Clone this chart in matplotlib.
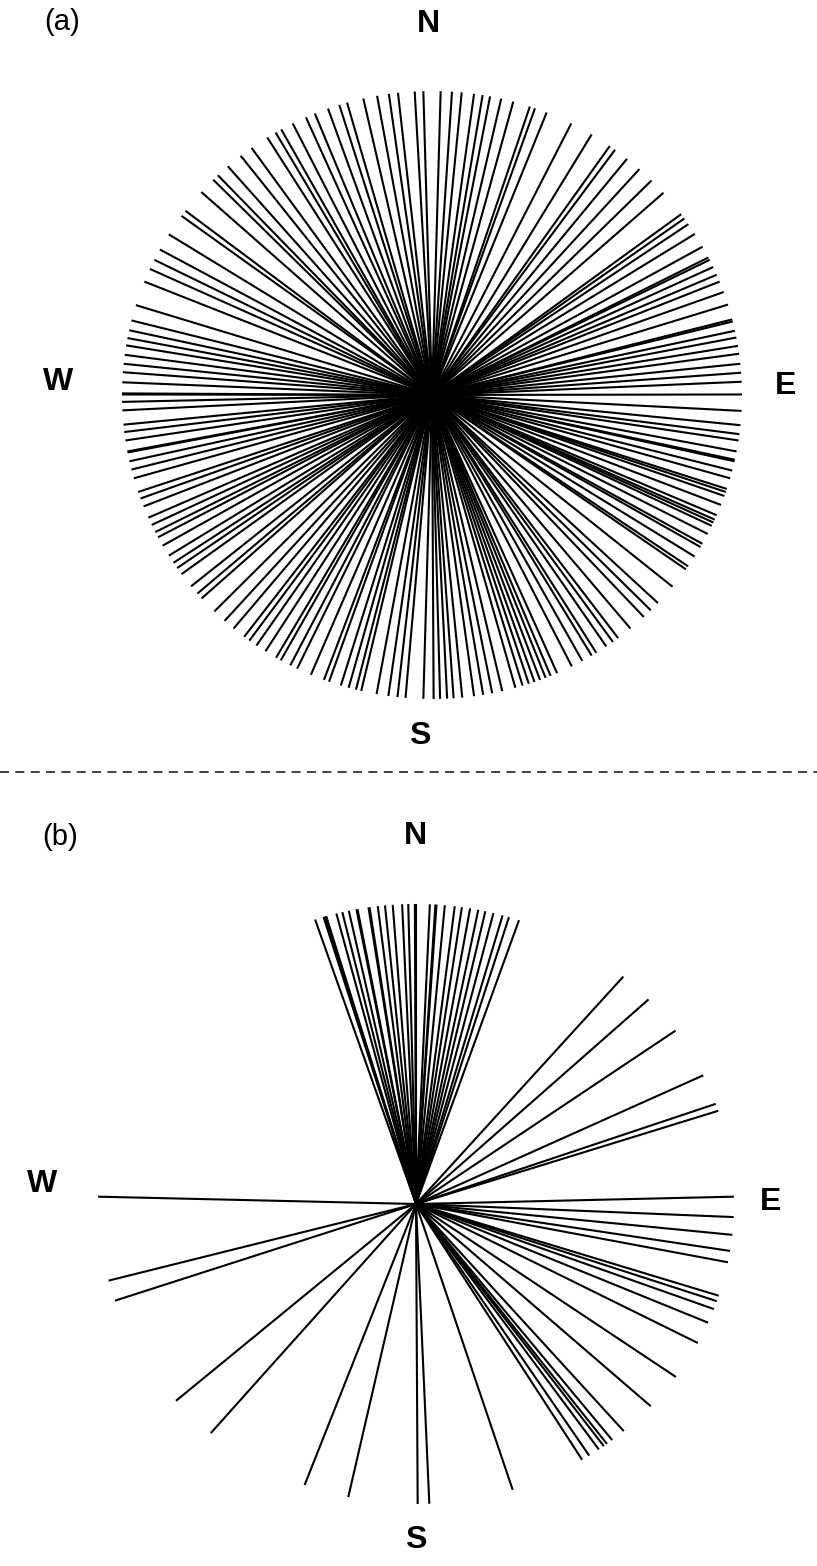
import numpy as np
import matplotlib
matplotlib.use("Agg")
import matplotlib.pyplot as plt

# ---------------- data (bearings in degrees, clockwise from North) ----------------
# Panel (a): orientations spread all around the compass
a_north_west = [-1.6, -3.2, -6.3, -8.0, -10.2, -12.8, -15.9, -17.4, -19.6, -22.2, -24.0,
                -26.7, -29.1, -30.3, -32.1, -35.6, -38.1, -41.2, -43.7, -44.9, -48.1, -52.7,
                -53.9, -58.1, -61.4, -63.6, -65.5, -68.1, -72.8, -75.8, -77.7, -79.2, -80.6,
                -82.4, -84.1, -85.7, -87.6, -89.7]
a_north_east = [1.6, 3.7, 5.5, 7.8, 9.4, 10.8, 12.9, 15.2, 18.4, 19.4, 21.7, 26.7, 31.0,
                35.0, 36.2, 39.0, 42.0, 45.1, 48.3, 53.5, 54.5, 55.8, 58.0, 60.8, 63.1, 63.6,
                65.1, 66.7, 68.1, 70.2, 72.7, 75.6, 76.0, 77.8, 79.1, 80.7, 82.2, 84.1, 85.8,
                87.5, 89.9]
a_south_east = [93.0, 95.7, 97.4, 98.6, 100.7, 102.3, 102.6, 104.4, 105.9, 108.0, 108.6,
                109.4, 111.2, 113.3, 114.2, 114.8, 115.5, 117.2, 119.3, 120.0, 122.1, 124.3,
                125.0, 129.1, 133.2, 135.1, 136.9, 140.2, 143.1, 144.3, 145.8, 148.0, 149.0,
                151.0, 153.2, 156.2, 157.5, 158.5, 159.6, 160.7, 161.8, 163.0, 164.4, 166.9,
                168.8, 170.5, 172.2, 174.4, 176.0, 177.2, 178.5, 179.7]
a_south_west = [181.6, 184.9, 186.4, 188.1, 190.3, 193.2, 194.2, 195.6, 197.1, 199.4, 200.4,
                203.0, 205.8, 207.2, 209.2, 210.2, 212.5, 214.5, 216.1, 217.3, 219.8, 222.0,
                224.6, 228.0, 229.2, 231.0, 233.9, 235.3, 236.5, 238.1, 240.3, 242.1, 243.2,
                244.7, 246.2, 248.5, 250.1, 251.4, 254.1, 255.8, 257.4, 259.1, 259.3, 261.4,
                263.0, 264.4, 267.1, 268.7, 270.1]

# Panel (b): a dominant northern cluster plus scattered orientations
b_north = [-18.5, -16.9, -16.6, -16.4, -14.5, -13.4, -12.2, -10.8, -10.6, -8.6, -8.4, -6.9,
           -5.6, -4.2, -2.5, -1.4, -0.2, 0.0, 2.5, 3.5, 3.7, 5.2, 7.0, 8.3, 9.8, 11.3,
           12.6, 14.1, 15.8, 17.0, 18.9]
b_north_east = [40.7, 47.0, 54.7, 64.6, 70.5, 71.9]
b_east_south = [88.6, 92.5, 95.9, 99.0, 101.2, 107.8, 108.9, 110.5, 113.3, 117.6, 125.2,
                132.4, 139.2, 141.9, 143.1, 143.8, 144.9, 147.0, 148.5, 162.3, 177.6, 179.7]
b_south_west = [192.3, 200.5, 220.2, 229.0, 251.2, 255.2, 271.4]

compass = ["N", "E", "S", "W"]
panel_tags = ["(a)", "(b)"]

# ---------------- figure ----------------
W, H = 817, 1566
fig = plt.figure(figsize=(W / 100, H / 100), dpi=100)


def fx(x):
    return x / W


def fy(y):
    return 1 - y / H


def rose_axes(cx, cy, rx, ry):
    ax = fig.add_axes([fx(cx - rx), fy(cy + ry), 2 * rx / W, 2 * ry / H])
    ax.set_xlim(-1, 1)
    ax.set_ylim(-1, 1)
    ax.axis("off")
    return ax


def draw_rose(ax, angles):
    for ang in angles:
        t = np.deg2rad(ang)
        ax.plot([0, np.sin(t)], [0, np.cos(t)], color="black", lw=1.5,
                solid_capstyle="butt", clip_on=False)


# panel (a)
ax_a = rose_axes(432, 395, 310, 304)
draw_rose(ax_a, a_north_west + a_north_east + a_south_east + a_south_west)

# panel (b)
ax_b = rose_axes(416, 1204, 318, 300)
draw_rose(ax_b, b_north + b_north_east + b_east_south + b_south_west)

lab_kw = dict(fontsize=23, fontweight="bold", family="Liberation Sans",
              ha="center", va="center")
tag_kw = dict(fontsize=21, family="Liberation Sans", ha="center", va="center")

# labels panel (a)
label_pos_a = {"N": (428, 24), "E": (786, 386), "S": (420, 736), "W": (58, 382)}
for k in compass:
    x, y = label_pos_a[k]
    fig.text(fx(x), fy(y), k, **lab_kw)
fig.text(fx(62), fy(22), panel_tags[0], **tag_kw)

# labels panel (b)
label_pos_b = {"N": (415, 836), "E": (771, 1202), "S": (416, 1540), "W": (42, 1184)}
for k in compass:
    x, y = label_pos_b[k]
    fig.text(fx(x), fy(y), k, **lab_kw)
fig.text(fx(60), fy(837), panel_tags[1], **tag_kw)

# dashed separator
fig.add_artist(plt.Line2D([0, 1], [fy(772), fy(772)], transform=fig.transFigure,
                          color="#333333", lw=1.3, linestyle=(0, (5, 3.5))))

fig.savefig("out.png", dpi=100)
